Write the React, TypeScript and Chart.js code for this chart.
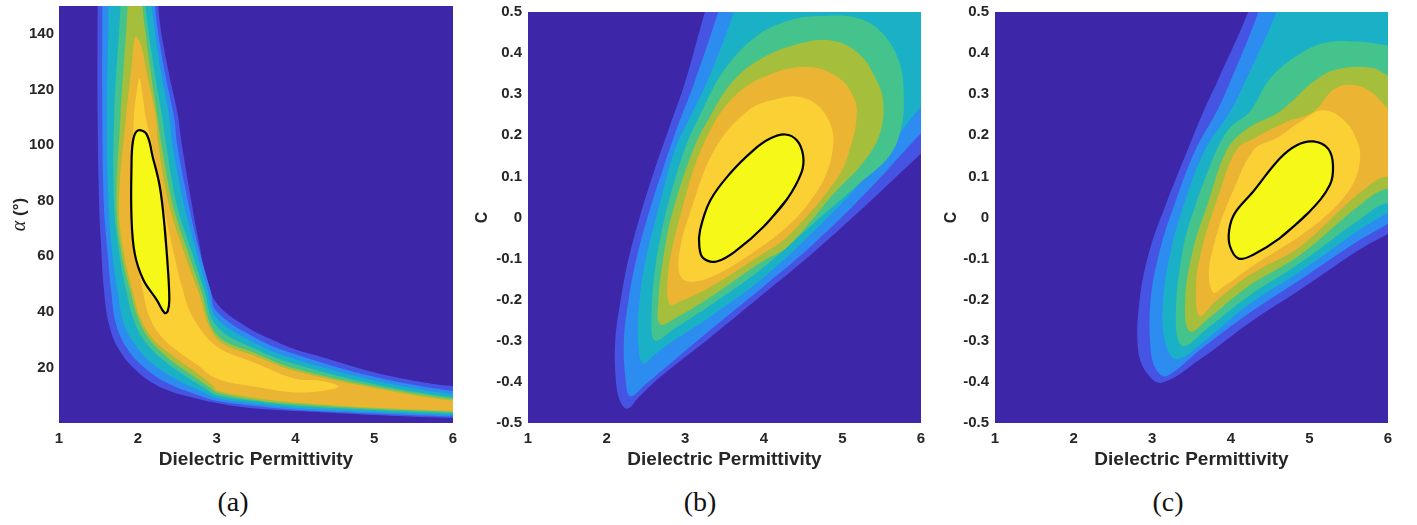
import React, { useEffect, useRef } from "react";
import { Chart, registerables } from "chart.js";

Chart.register(...registerables);

type Pt = [number, number];

// ---------- axis / text data ----------
const X_TICKS = [1, 2, 3, 4, 5, 6];
const X_TITLE = "Dielectric Permittivity";
const A_Y_TICKS = [20, 40, 60, 80, 100, 120, 140];
const A_Y_LABELS = ["20", "40", "60", "80", "100", "120", "140"];
const BC_Y_TICKS = [-0.5, -0.4, -0.3, -0.2, -0.1, 0, 0.1, 0.2, 0.3, 0.4, 0.5];
const BC_Y_LABELS = ["-0.5", "-0.4", "-0.3", "-0.2", "-0.1", "0", "0.1", "0.2", "0.3", "0.4", "0.5"];
const A_Y_TITLE = ["α", " (°)"];
const BC_Y_TITLE = "C";
const CAPTIONS = ["(a)", "(b)", "(c)"];

// ---------- colour levels (outer -> inner) ----------
const LEVEL_COLORS = ["#4654e4", "#2d8cf0", "#1ab1c6", "#45c38c", "#a5be3b", "#ecb433", "#fbd035", "#f6f917"];
const BG = "#3d26a8";
const AXIS_COLOR = "#262626";

// ---------- panel (a): contour bands, [permittivity, alpha] ----------
const A_L1: Pt[] = [[1.49,160],[1.49,150],[1.49,110],[1.51,78],[1.53,66],[1.57,48],[1.63,36],[1.76,26.4],[2.01,18.1],[2.35,12.1],[2.77,8.6],[3.0,7.2],[3.37,5.6],[4.0,4.3],[4.38,3.8],[5.0,2.9],[6.0,1.8],[6.4,1.6],[6.4,12.8],[6.0,13.3],[5.65,14.5],[5.02,18.1],[4.3,24],[4.0,26.4],[3.7,30],[3.37,34.8],[3.0,43.2],[2.86,53.9],[2.77,65.8],[2.69,78],[2.56,100],[2.5,112],[2.4,125],[2.3,140],[2.26,150],[2.24,160]];
const A_L2: Pt[] = [[1.55,160],[1.55,150],[1.55,110],[1.57,78],[1.62,60],[1.66,48],[1.72,36],[1.86,27],[2.1,19.5],[2.4,14.0],[2.77,10.0],[3.0,8.0],[3.5,6.1],[4.0,4.8],[5.0,3.4],[6.0,2.3],[6.4,2.1],[6.4,11.0],[6.0,11.5],[5.0,16.6],[4.0,24.7],[3.5,30.5],[3.0,40.2],[2.92,48],[2.78,62],[2.65,78],[2.5,100],[2.46,110],[2.35,125],[2.26,140],[2.22,150],[2.2,160]];
const A_L3: Pt[] = [[1.63,160],[1.63,150],[1.61,110],[1.63,78],[1.68,60],[1.74,48],[1.82,36],[1.97,28],[2.2,21],[2.5,15.5],[2.8,11.5],[3.0,9.0],[3.5,6.9],[4.0,5.4],[5.0,4.0],[6.0,2.9],[6.4,2.7],[6.4,9.8],[6.0,10.3],[5.0,15.3],[4.0,22.9],[3.5,28.5],[3.0,37.8],[2.88,48],[2.74,62],[2.59,78],[2.44,100],[2.4,110],[2.3,125],[2.22,140],[2.18,150],[2.16,160]];
const A_L4: Pt[] = [[1.78,160],[1.78,150],[1.7,110],[1.7,78],[1.77,60],[1.85,48],[1.95,37],[2.1,29],[2.35,22],[2.6,17],[2.85,12.5],[3.0,10.0],[3.5,7.8],[4.0,6.2],[5.0,4.7],[6.0,3.5],[6.4,3.3],[6.4,8.8],[6.0,9.2],[5.0,14.0],[4.0,21.1],[3.5,26.5],[3.0,34.8],[2.84,48],[2.68,62],[2.5,78],[2.36,100],[2.31,110],[2.22,125],[2.14,140],[2.1,150],[2.08,160]];
const A_L5: Pt[] = [[1.87,160],[1.87,150],[1.78,110],[1.73,78],[1.8,60],[1.9,48],[2.0,38],[2.15,30],[2.4,23],[2.7,17],[2.9,13],[3.0,11.0],[3.5,8.3],[4.0,6.8],[5.0,5.1],[6.0,4.0],[6.4,3.8],[6.4,8.3],[6.0,8.6],[5.0,13.2],[4.0,19.5],[3.5,25],[3.0,31.8],[2.8,48],[2.63,62],[2.45,78],[2.3,100],[2.25,110],[2.17,125],[2.1,140],[2.06,150],[2.05,160]];
const A_L6: Pt[] = [[1.97,139],[1.92,128],[1.85,110],[1.76,78],[1.83,60],[1.93,48],[2.03,38],[2.2,30],[2.45,24],[2.75,18],[2.95,13.5],[3.0,11.8],[3.5,9.0],[4.0,7.4],[5.0,5.5],[6.0,4.4],[6.4,4.2],[6.4,7.8],[6.0,8.0],[5.0,12.6],[4.0,18.7],[3.5,24],[3.0,30.5],[2.76,48],[2.58,62],[2.4,78],[2.26,100],[2.23,110],[2.12,125],[2.04,136]];
const A_L7: Pt[] = [[2.02,124],[1.97,116],[1.95,110],[1.91,78],[1.98,60],[2.06,48],[2.15,38],[2.3,31],[2.5,26],[2.75,21],[3.0,16.0],[3.5,13.0],[4.0,11.0],[4.4,11.8],[4.55,13.2],[4.3,15.3],[4.0,15.9],[3.5,21.5],[3.0,27.6],[2.7,38],[2.57,48],[2.45,62],[2.33,78],[2.18,100],[2.1,110],[2.06,118]];
const A_L8: Pt[] = [[2.34,70.6],[2.38,56.3],[2.4,44.3],[2.38,40.2],[2.34,39.6],[2.24,44.3],[2.07,51.5],[1.96,61.1],[1.92,74.2],[1.92,92.1],[1.94,101.6],[2.0,105.2],[2.11,104.0],[2.19,95.6],[2.28,84.9]];

// ---------- panel (b): contour bands, [permittivity, C] ----------
const B_L1: Pt[] = [[3.35,0.56],[3.25,0.5],[3.0,0.33],[2.8,0.22],[2.6,0.11],[2.42,0.0],[2.28,-0.1],[2.18,-0.2],[2.11,-0.3],[2.12,-0.4],[2.18,-0.45],[2.27,-0.465],[2.42,-0.435],[2.69,-0.387],[3.33,-0.29],[3.97,-0.19],[4.6,-0.09],[5.3,0.03],[6.0,0.155],[6.4,0.22],[6.4,0.6]];
const B_L2: Pt[] = [[3.5,0.56],[3.42,0.5],[3.1,0.32],[2.9,0.22],[2.72,0.12],[2.52,0.0],[2.38,-0.1],[2.28,-0.2],[2.22,-0.3],[2.24,-0.39],[2.3,-0.435],[2.5,-0.405],[2.75,-0.365],[3.33,-0.272],[3.97,-0.172],[4.6,-0.07],[5.3,0.06],[6.0,0.205],[6.4,0.28],[6.4,0.6]];
const B_L3: Pt[] = [[3.7,0.56],[3.62,0.5],[3.3,0.34],[3.05,0.24],[2.86,0.16],[2.63,0.0],[2.5,-0.1],[2.42,-0.2],[2.4,-0.3],[2.46,-0.355],[2.6,-0.335],[2.85,-0.3],[3.33,-0.24],[3.97,-0.15],[4.6,-0.04],[5.3,0.1],[6.0,0.27],[6.4,0.35],[6.4,0.6]];
const B_L4: Pt[] = [[2.62,-0.12],[2.74,0.0],[2.99,0.164],[3.19,0.25],[3.5,0.36],[3.9,0.44],[4.3,0.478],[4.7,0.49],[5.2,0.485],[5.5,0.45],[5.72,0.38],[5.78,0.3],[5.75,0.22],[5.6,0.15],[5.2,0.08],[4.6,-0.02],[3.97,-0.125],[3.33,-0.212],[2.85,-0.272],[2.62,-0.3],[2.57,-0.26]];
const B_L5: Pt[] = [[2.72,-0.1],[2.82,0.0],[3.1,0.164],[3.3,0.24],[3.6,0.33],[4.0,0.39],[4.5,0.425],[4.88,0.43],[5.2,0.4],[5.42,0.34],[5.52,0.28],[5.47,0.2],[5.25,0.13],[4.9,0.06],[4.31,-0.07],[3.97,-0.108],[3.33,-0.192],[2.9,-0.242],[2.68,-0.26],[2.66,-0.2]];
const B_L6: Pt[] = [[2.84,-0.07],[2.93,0.0],[3.2,0.164],[3.6,0.29],[4.1,0.35],[4.59,0.366],[4.95,0.34],[5.15,0.29],[5.18,0.24],[5.1,0.17],[4.95,0.1],[4.31,-0.045],[3.97,-0.09],[3.33,-0.168],[2.95,-0.203],[2.8,-0.21],[2.78,-0.14]];
const B_L7: Pt[] = [[2.95,-0.06],[3.04,0.0],[3.37,0.164],[3.8,0.26],[4.2,0.29],[4.46,0.293],[4.7,0.27],[4.86,0.22],[4.88,0.17],[4.78,0.1],[4.55,0.03],[4.31,-0.02],[3.9,-0.08],[3.33,-0.145],[3.02,-0.155],[2.92,-0.13]];
const B_L8: Pt[] = [[4.29,0.043],[4.0,-0.022],[3.66,-0.079],[3.4,-0.107],[3.23,-0.099],[3.18,-0.071],[3.19,-0.03],[3.32,0.042],[3.57,0.107],[3.87,0.164],[4.08,0.192],[4.27,0.202],[4.42,0.188],[4.5,0.151],[4.48,0.11]];

// ---------- panel (c): contour bands, [permittivity, C] ----------
const C_L1: Pt[] = [[4.3,0.56],[4.22,0.5],[3.85,0.34],[3.65,0.257],[3.45,0.164],[3.17,0.03],[2.97,-0.078],[2.84,-0.2],[2.82,-0.321],[2.93,-0.378],[3.12,-0.402],[3.61,-0.345],[4.24,-0.256],[4.88,-0.176],[5.64,-0.078],[6.0,-0.04],[6.4,0.0],[6.4,0.6]];
const C_L2: Pt[] = [[4.42,0.56],[4.35,0.5],[4.01,0.338],[3.82,0.257],[3.55,0.164],[3.28,0.03],[3.1,-0.078],[2.98,-0.2],[2.98,-0.32],[3.05,-0.37],[3.18,-0.386],[3.61,-0.322],[4.24,-0.232],[4.88,-0.152],[5.64,-0.055],[6.0,-0.015],[6.4,0.03],[6.4,0.6]];
const C_L3: Pt[] = [[4.65,0.56],[4.58,0.5],[4.2,0.338],[3.99,0.257],[3.67,0.164],[3.4,0.03],[3.24,-0.078],[3.14,-0.2],[3.16,-0.3],[3.31,-0.345],[3.7,-0.295],[4.24,-0.21],[4.88,-0.132],[5.64,-0.03],[6.0,0.012],[6.4,0.06],[6.4,0.6]];
const C_L4: Pt[] = [[3.55,0.03],[3.82,0.164],[4.0,0.22],[4.24,0.257],[4.5,0.338],[4.85,0.395],[5.2,0.425],[5.6,0.428],[6.0,0.418],[6.4,0.4],[6.4,0.02],[6.0,0.035],[5.64,-0.005],[4.88,-0.111],[4.24,-0.19],[3.7,-0.27],[3.39,-0.313],[3.3,-0.25],[3.39,-0.078]];
const C_L5: Pt[] = [[3.7,0.03],[3.95,0.164],[4.2,0.215],[4.62,0.257],[5.05,0.33],[5.34,0.36],[5.77,0.365],[6.0,0.345],[6.4,0.3],[6.4,0.05],[6.0,0.07],[5.64,0.03],[4.88,-0.091],[4.24,-0.165],[3.75,-0.24],[3.48,-0.277],[3.42,-0.2],[3.52,-0.078]];
const C_L6: Pt[] = [[3.8,0.03],[4.07,0.164],[4.31,0.194],[4.7,0.232],[5.05,0.257],[5.3,0.31],[5.5,0.323],[5.75,0.31],[6.0,0.265],[6.4,0.2],[6.4,0.07],[6.0,0.1],[5.64,0.06],[4.88,-0.071],[4.24,-0.14],[3.8,-0.205],[3.6,-0.24],[3.56,-0.16],[3.63,-0.078]];
const C_L7: Pt[] = [[3.95,0.03],[4.29,0.164],[4.59,0.194],[4.9,0.235],[5.17,0.261],[5.45,0.235],[5.62,0.18],[5.64,0.135],[5.55,0.08],[5.3,0.02],[4.88,-0.045],[4.3,-0.115],[3.9,-0.17],[3.78,-0.183],[3.72,-0.14],[3.77,-0.078]];
const C_L8: Pt[] = [[5.0,0.014],[4.62,-0.051],[4.28,-0.091],[4.1,-0.1],[3.99,-0.07],[3.98,-0.03],[4.05,0.01],[4.28,0.062],[4.62,0.143],[4.84,0.176],[5.05,0.185],[5.24,0.167],[5.3,0.127],[5.26,0.079]];

// ---------- styles ----------
const SANS = '"Liberation Sans", Arial, Helvetica, sans-serif';
const TICK_FONT = { family: SANS, size: 15, weight: "bold" as const };
const XTITLE_FONT = { family: SANS, size: 19, weight: "bold" as const };
const YTITLE_FONT = { family: SANS, size: 16, weight: "bold" as const };

interface PanelCfg {
  left: number;
  w: number;
  h: number;
  padTop: number;
  padRight: number;
  yAxisW: number;
  xAxisH: number;
  yMin: number;
  yMax: number;
  yTicks: number[];
  yLabels: string[];
  yTickPad: number;
  yTitlePad: number;
  richTitle: boolean;
  levels: Pt[][];
  caption: string;
  captionX: number;
}

const PANELS: PanelCfg[] = [
  { left: 0, w: 470, h: 480, padTop: 6, padRight: 17, yAxisW: 59, xAxisH: 57, yMin: 0, yMax: 150,
    yTicks: A_Y_TICKS, yLabels: A_Y_LABELS, yTickPad: 5, yTitlePad: 0, richTitle: true,
    levels: [A_L1, A_L2, A_L3, A_L4, A_L5, A_L6, A_L7, A_L8], caption: CAPTIONS[0], captionX: 233 },
  { left: 470, w: 470, h: 480, padTop: 12, padRight: 19, yAxisW: 58, xAxisH: 57, yMin: -0.5, yMax: 0.5,
    yTicks: BC_Y_TICKS, yLabels: BC_Y_LABELS, yTickPad: 6, yTitlePad: 3, richTitle: false,
    levels: [B_L1, B_L2, B_L3, B_L4, B_L5, B_L6, B_L7, B_L8], caption: CAPTIONS[1], captionX: 700 },
  { left: 940, w: 477, h: 480, padTop: 12, padRight: 29, yAxisW: 55, xAxisH: 57, yMin: -0.5, yMax: 0.5,
    yTicks: BC_Y_TICKS, yLabels: BC_Y_LABELS, yTickPad: 6, yTitlePad: 2, richTitle: false,
    levels: [C_L1, C_L2, C_L3, C_L4, C_L5, C_L6, C_L7, C_L8], caption: CAPTIONS[2], captionX: 1168 },
];

function levelDatasets(levels: Pt[][]) {
  const n = levels.length;
  return levels.map((pts, i) => {
    const loop = pts.concat([pts[0], pts[1]]);
    const top = i === n - 1;
    return {
      data: loop.map(([x, y]) => ({ x, y })),
      backgroundColor: LEVEL_COLORS[i],
      borderColor: top ? "#000000" : LEVEL_COLORS[i],
      borderWidth: top ? 2.2 : 0,
      fill: "shape",
      tension: 0.38,
      pointRadius: 0,
      pointHoverRadius: 0,
      capBezierPoints: false,
      order: n - i,
    };
  });
}

const bgPlugin = {
  id: "plotBg",
  beforeDatasetsDraw(chart: any) {
    const { ctx, chartArea: a } = chart;
    ctx.save();
    ctx.fillStyle = BG;
    ctx.fillRect(a.left, a.top, a.right - a.left, a.bottom - a.top);
    ctx.restore();
  },
};

const alphaTitlePlugin = {
  id: "alphaTitle",
  afterDraw(chart: any) {
    const { ctx, chartArea: a } = chart;
    const cy = (a.top + a.bottom) / 2;
    ctx.save();
    ctx.translate(20.5, cy);
    ctx.rotate(-Math.PI / 2);
    ctx.fillStyle = AXIS_COLOR;
    ctx.textBaseline = "middle";
    ctx.textAlign = "left";
    const f1 = 'italic 20px "Liberation Serif", "DejaVu Serif", serif';
    const f2 = `bold 17px ${SANS}`;
    ctx.font = f1;
    const w1 = ctx.measureText(A_Y_TITLE[0]).width;
    ctx.font = f2;
    const w2 = ctx.measureText(A_Y_TITLE[1]).width;
    let x = -(w1 + w2) / 2;
    ctx.font = f1;
    ctx.fillText(A_Y_TITLE[0], x, -1);
    x += w1;
    ctx.font = f2;
    ctx.fillText(A_Y_TITLE[1], x, 0);
    ctx.restore();
  },
};

function makeChart(canvas: HTMLCanvasElement, p: PanelCfg) {
  const plugins: any[] = [bgPlugin];
  if (p.richTitle) plugins.push(alphaTitlePlugin);
  return new Chart(canvas, {
    type: "line",
    data: { datasets: levelDatasets(p.levels) as any },
    options: {
      animation: false,
      responsive: false,
      devicePixelRatio: 1,
      events: [],
      layout: { padding: { top: p.padTop, right: p.padRight, left: 0, bottom: 0 } },
      plugins: { legend: { display: false }, tooltip: { enabled: false } },
      scales: {
        x: {
          type: "linear",
          min: 1,
          max: 6,
          grid: { display: false, drawTicks: false },
          border: { display: false },
          afterBuildTicks: (s: any) => {
            s.ticks = X_TICKS.map((v) => ({ value: v }));
          },
          afterFit: (s: any) => {
            s.height = p.xAxisH;
            s.paddingLeft = 0;
            s.paddingRight = 0;
          },
          ticks: {
            font: TICK_FONT,
            color: AXIS_COLOR,
            padding: 7,
            autoSkip: false,
            maxRotation: 0,
            callback: (_v: any, i: number) => String(X_TICKS[i]),
          },
          title: {
            display: true,
            text: X_TITLE,
            font: XTITLE_FONT,
            color: AXIS_COLOR,
            padding: { top: 0, bottom: 9 },
          },
        },
        y: {
          type: "linear",
          min: p.yMin,
          max: p.yMax,
          grid: { display: false, drawTicks: false },
          border: { display: false },
          afterBuildTicks: (s: any) => {
            s.ticks = p.yTicks.map((v) => ({ value: v }));
          },
          afterFit: (s: any) => {
            s.width = p.yAxisW;
            s.paddingTop = 0;
            s.paddingBottom = 0;
          },
          ticks: {
            font: TICK_FONT,
            color: AXIS_COLOR,
            padding: p.yTickPad,
            autoSkip: false,
            callback: (_v: any, i: number) => p.yLabels[i],
          },
          title: p.richTitle
            ? { display: false }
            : {
                display: true,
                text: BC_Y_TITLE,
                font: YTITLE_FONT,
                color: AXIS_COLOR,
                padding: { top: p.yTitlePad, bottom: 0 },
              },
        },
      },
    } as any,
    plugins,
  });
}

function Panel({ cfg }: { cfg: PanelCfg }) {
  const ref = useRef<HTMLCanvasElement>(null);
  useEffect(() => {
    if (!ref.current) return;
    const chart = makeChart(ref.current, cfg);
    return () => chart.destroy();
  }, [cfg]);
  return (
    <>
      <canvas
        ref={ref}
        width={cfg.w}
        height={cfg.h}
        style={{ position: "absolute", left: cfg.left, top: 0, width: cfg.w, height: cfg.h, display: "block" }}
      />
      <div
        style={{
          position: "absolute",
          left: cfg.captionX - 40,
          width: 80,
          top: 484,
          textAlign: "center",
          fontFamily: '"Liberation Serif", "DejaVu Serif", serif',
          fontSize: 28,
          lineHeight: "36px",
          color: "#111",
        }}
      >
        {cfg.caption}
      </div>
    </>
  );
}

export default function App() {
  return (
    <div style={{ position: "absolute", left: 0, top: 0, width: 1417, height: 525, background: "#ffffff", overflow: "hidden" }}>
      {PANELS.map((p, i) => (
        <Panel key={i} cfg={p} />
      ))}
    </div>
  );
}
